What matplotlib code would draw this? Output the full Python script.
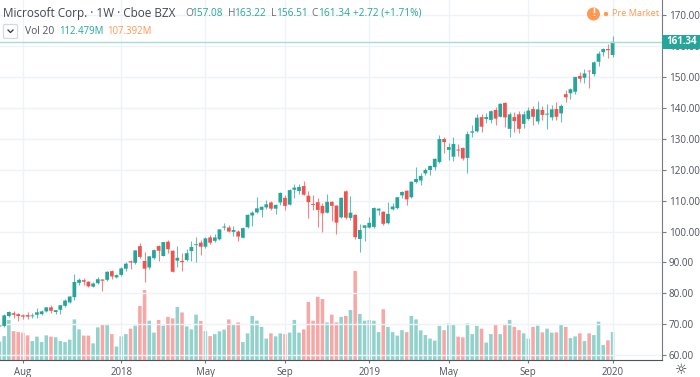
import matplotlib
matplotlib.use('Agg')
import matplotlib.pyplot as plt
from matplotlib.patches import Rectangle, FancyBboxPatch, Circle
from matplotlib.transforms import blended_transform_factory

opens = [69.3, 69.5, 72.7, 73.6, 73.3, 72.9, 73.0, 72.6, 73.1, 73.3,
         74.2, 75.5, 74.0, 74.7, 76.0, 77.1, 78.8, 83.4, 84.3, 83.8,
         82.2, 83.3, 84.5, 84.4, 87.2, 85.2, 86.0, 88.0, 90.4, 89.9,
         95.3, 90.5, 88.4, 91.4, 95.3, 92.1, 96.7, 93.8, 90.6, 90.5,
         90.8, 93.7, 95.6, 96.4, 95.1, 98.1, 97.0, 97.5, 101.3, 101.3,
         99.9, 100.0, 98.0, 101.4, 105.2, 106.2, 107.0, 107.8, 109.4, 107.4,
         109.4, 110.9, 108.7, 113.5, 113.1, 114.7, 111.6, 108.9, 109.5, 108.3,
         106.1, 109.6, 108.4, 104.6, 113.0, 104.4, 105.4, 97.6, 101.2, 101.3,
         101.5, 106.8, 106.4, 102.7, 107.2, 107.6, 111.7, 113.2, 111.1, 116.0,
         116.5, 118.8, 119.9, 120.8, 122.5, 129.9, 126.4, 124.2, 126.5, 127.0,
         123.8, 132.0, 132.4, 137.0, 136.4, 136.1, 139.3, 137.1, 141.6, 133.2,
         137.0, 137.9, 134.8, 136.4, 139.6, 135.6, 139.3, 137.8, 136.9, 139.6,
         138.2, 144.4, 144.7, 145.2, 150.3, 149.7, 152.0, 150.9, 154.9, 158.0,
         159.0, 157.08]
highs = [70.0, 73.4, 74.4, 74.4, 73.6, 73.4, 74.1, 73.6, 75.2, 74.7,
         75.7, 76.4, 74.7, 76.4, 78.1, 79.2, 86.3, 85.0, 84.9, 84.1,
         83.6, 85.4, 84.8, 87.3, 87.5, 86.2, 88.7, 90.0, 90.7, 94.0,
         96.2, 93.3, 92.2, 94.4, 95.7, 96.7, 97.3, 94.0, 95.3, 93.0,
         94.3, 97.1, 98.1, 97.3, 98.4, 98.9, 99.1, 100.8, 102.9, 102.1,
         101.8, 100.4, 101.4, 105.6, 106.8, 111.2, 108.3, 110.2, 109.9, 108.8,
         112.9, 111.8, 113.7, 115.4, 115.4, 116.2, 113.2, 111.8, 110.8, 109.1,
         112.1, 109.8, 108.6, 111.1, 113.4, 111.5, 105.7, 102.5, 102.2, 104.8,
         107.8, 107.6, 106.8, 109.7, 109.1, 111.3, 113.1, 113.4, 116.5, 121.0,
         118.8, 120.4, 121.5, 123.7, 131.2, 130.5, 128.5, 130.5, 128.2, 127.2,
         132.4, 134.5, 138.0, 138.0, 138.4, 139.3, 140.4, 141.7, 141.8, 138.8,
         138.8, 139.1, 139.1, 140.4, 140.6, 142.3, 140.6, 141.2, 140.9, 141.9,
         141.2, 145.7, 146.3, 150.1, 151.5, 152.6, 152.2, 155.1, 158.5, 159.4,
         160.7, 163.22]
lows = [69.0, 69.2, 72.4, 72.1, 71.2, 71.8, 71.8, 72.0, 71.9, 73.0,
        74.0, 73.8, 73.2, 73.3, 75.7, 76.8, 77.9, 82.7, 82.7, 82.1,
        82.0, 83.0, 80.8, 84.1, 84.6, 85.1, 85.7, 87.3, 87.8, 89.5,
        91.4, 83.8, 87.8, 91.0, 90.5, 92.1, 93.0, 86.8, 88.5, 87.3,
        90.5, 90.6, 90.2, 92.4, 94.8, 96.0, 96.5, 97.3, 100.5, 99.7,
        98.6, 97.1, 97.8, 101.0, 101.8, 105.9, 104.6, 107.4, 107.0, 105.7,
        108.7, 107.0, 108.5, 111.0, 112.2, 111.7, 104.3, 107.0, 101.4, 100.0,
        105.9, 103.5, 99.2, 104.3, 104.2, 103.7, 97.5, 93.5, 97.1, 101.0,
        101.2, 105.3, 102.1, 102.4, 107.0, 107.2, 110.8, 108.5, 110.9, 115.8,
        115.2, 118.2, 118.3, 119.9, 122.3, 125.3, 123.1, 122.9, 124.4, 123.1,
        118.8, 130.7, 132.2, 132.3, 135.0, 135.0, 134.3, 136.9, 133.9, 130.7,
        132.1, 132.0, 133.4, 136.1, 134.5, 134.8, 135.9, 133.2, 135.9, 135.9,
        135.4, 142.0, 143.0, 144.5, 148.5, 148.1, 146.5, 150.3, 153.6, 156.9,
        156.1, 156.51]
closes = [69.6, 72.9, 74.0, 73.1, 72.7, 72.5, 72.5, 72.9, 73.9, 74.2,
          75.5, 74.4, 74.6, 76.2, 77.7, 79.0, 83.7, 84.4, 83.8, 82.3,
          83.2, 84.6, 84.1, 87.0, 85.5, 85.9, 88.1, 89.6, 90.0, 93.9,
          91.8, 88.0, 92.0, 94.0, 93.8, 96.6, 94.3, 87.0, 91.5, 90.1,
          93.0, 95.0, 95.9, 95.1, 97.8, 96.4, 98.1, 100.7, 101.6, 100.0,
          100.5, 98.4, 101.1, 105.4, 106.1, 107.5, 108.0, 108.8, 107.4, 108.6,
          112.5, 108.3, 113.4, 114.2, 114.4, 111.9, 109.5, 108.6, 107.0, 105.9,
          109.6, 108.3, 102.9, 110.9, 104.5, 106.1, 98.2, 100.5, 102.0, 102.8,
          107.6, 107.4, 102.5, 105.7, 108.1, 111.1, 112.8, 110.4, 116.1, 117.0,
          118.0, 119.9, 121.2, 123.5, 129.9, 128.9, 127.3, 128.3, 126.2, 123.6,
          131.5, 132.4, 136.8, 133.9, 137.0, 138.9, 136.5, 141.3, 136.9, 137.9,
          135.7, 133.2, 137.9, 139.1, 137.1, 139.5, 137.7, 138.1, 139.5, 137.1,
          140.6, 143.4, 146.0, 150.0, 149.4, 151.1, 151.8, 154.7, 157.5, 159.0,
          158.6, 161.34]
# volume in millions
volumes = [73.6, 96, 161, 116, 112, 110, 99, 76, 94, 72,
           99, 94, 91, 76, 72, 82, 163, 123, 98, 98,
           67, 131, 142, 145, 104, 54, 95, 104, 126, 138,
           217, 281, 158, 110, 161, 138, 173, 167, 213, 191,
           135, 123, 182, 157, 116, 96, 104, 115, 122, 163,
           142, 151, 72, 107, 177, 158, 133, 86, 107, 95,
           107, 104, 110, 161, 110, 123, 233, 158, 254, 245,
           151, 182, 151, 173, 177, 201, 358, 185, 158, 161,
           158, 112, 204, 133, 112, 98, 120, 112, 177, 163,
           119, 100, 86, 78, 137, 120, 147, 142, 94, 91,
           147, 104, 137, 126, 70, 104, 142, 104, 145, 161,
           133, 120, 107, 86, 133, 138, 111, 126, 110, 111,
           145, 133, 88, 95, 107, 76, 107, 100, 154, 60,
           79, 112.479]
tick_idx = [5, 26, 44, 61, 79, 96, 113, 131]
tick_labels = ['Aug', '2018', 'May', 'Sep', '2019', 'May', 'Sep', '2020']
price_ticks = [60, 70, 80, 90, 100, 110, 120, 130, 140, 150, 160, 170]
last_close = 161.34

UP = '#26a69a'
DOWN = '#ef5350'
GRID = '#eff3f8'
TEXT = '#50535e'

plt.rcParams['font.family'] = ['Open Sans', 'DejaVu Sans']

W, H = 700, 377
fig = plt.figure(figsize=(7, 3.77), dpi=100)
rect = [0, (H - 360) / H, 662 / W, 360 / H]
ax = fig.add_axes(rect)
ax_vol = ax.twinx()
ax.set_zorder(ax_vol.get_zorder() + 1)
ax.patch.set_visible(False)

xs = list(range(len(closes)))
colors = [UP if c >= o else DOWN for o, c in zip(opens, closes)]

# volume bars underneath
ax_vol.bar(xs, volumes, width=0.76, color=colors, alpha=0.5, linewidth=0, snap=False)
ax_vol.set_ylim(0, 360 * 4.017)
ax_vol.set_yticks([])

# candles
for x, o, h, l, c, col in zip(xs, opens, highs, lows, closes, colors):
    ax.vlines(x, l, h, color=col, linewidth=0.8, alpha=0.7, zorder=3)
    ax.bar(x, abs(c - o), bottom=min(o, c), width=0.8, color=col, linewidth=0, zorder=4, snap=False)

ax.set_xlim(0.107, 141.56)
ax.set_ylim(58.48, 174.85)
ax.set_yticks(price_ticks)
ax.set_yticklabels(['%.2f' % p for p in price_ticks], fontsize=7.1, color=TEXT)
ax.yaxis.tick_right()
ax.set_xticks(tick_idx)
ax.set_xticklabels(tick_labels, fontsize=6.9, color=TEXT)
ax.tick_params(axis='y', length=2.9, width=0.8, color='#787b86', pad=2)
ax.tick_params(axis='x', length=2, width=0.8, color='#787b86', pad=3)
ax.grid(True, color=GRID, linewidth=1)
ax.set_axisbelow(True)
for name in ['top', 'left']:
    ax.spines[name].set_visible(False)
    ax_vol.spines[name].set_visible(False)
ax.spines['bottom'].set_color(TEXT)
ax.spines['right'].set_color('#787b86')
ax_vol.spines['bottom'].set_visible(False)
ax_vol.spines['right'].set_visible(False)

# last price line and label
ax.axhline(last_close, color='#a6dcd6', linewidth=1, zorder=5)
trans = blended_transform_factory(ax.transAxes, ax.transData)
ax.add_patch(Rectangle((1.0, last_close - 2.3), 38 / 662, 4.6, transform=trans,
                       facecolor=UP, edgecolor='none', clip_on=False, zorder=10))
ax.text(1 + 20 / 662, last_close, '%.2f' % last_close, transform=trans, ha='center',
        va='center', color='white', fontsize=7, fontweight='bold', zorder=11)


def label(x, y, s, color=TEXT, size=7.3, **kw):
    fig.text(x / W, 1 - y / H, s, color=color, fontsize=size, va='center', zorder=21, **kw)


# header
label(3, 13, 'Microsoft Corp. · 1W · Cboe BZX', color='#444750', size=8.5)
for x, s in [(185, 'O'), (228, 'H'), (271, 'L'), (311.5, 'C')]:
    label(x, 13, s, color='#6b6e78')
for x, s in [(191.5, '157.08'), (234, '163.22'), (276, '156.51'), (318, '161.34'), (353, '+2.72 (+1.71%)')]:
    label(x, 13, s, color=UP)
label(25, 31, 'Vol 20', color='#50535e', size=7.4)
label(59, 31, '112.479M', color=UP, size=6.9)
label(107, 31, '107.392M', color='#ff9850', size=6.9)

# dropdown button
fig.add_artist(FancyBboxPatch((3.5 / W, 1 - 38.5 / H), 14 / W, 14 / H, boxstyle='round,pad=0,rounding_size=0.003',
                              transform=fig.transFigure, facecolor='white', edgecolor='#d6d8e0', linewidth=0.9))
fig.add_artist(plt.Line2D([8 / W, 10.5 / W, 13 / W], [1 - 30 / H, 1 - 32.5 / H, 1 - 30 / H],
                          color='#333640', linewidth=0.9))

# pre market marker
fig.add_artist(Circle((593.5, H - 14), 6.5, transform=None, facecolor='#ff9850', edgecolor='none', zorder=20))
label(593.5, 14, '!', color='white', size=7.5, ha='center', fontweight='bold')
fig.add_artist(Circle((606, H - 14), 2.2, transform=None, facecolor='#ff9850', edgecolor='none', zorder=20))
label(611.5, 14, 'Pre Market', color='#ff9850', size=6.6)

# settings gear
label(681.5, 370, '☼', color='#333640', size=10, ha='center', family='DejaVu Sans')

fig.savefig('out.png', dpi=100)
